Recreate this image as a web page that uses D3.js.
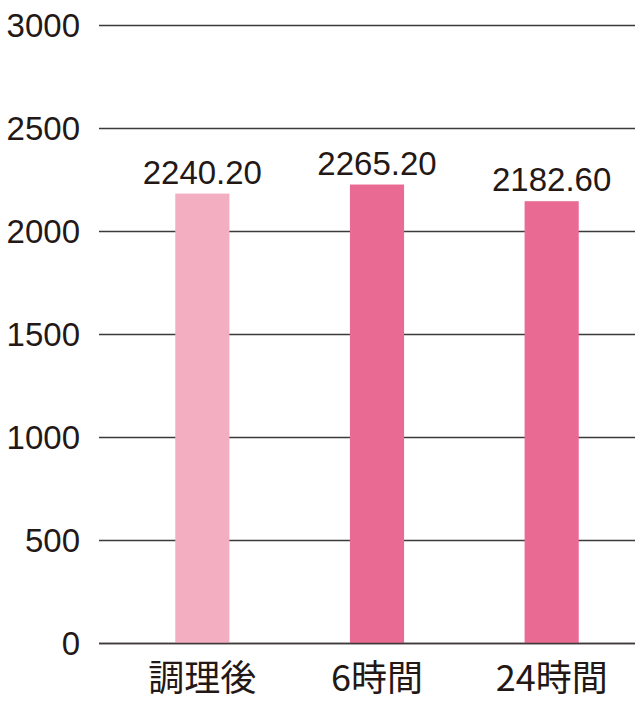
<!DOCTYPE html>
<html><head><meta charset="utf-8">
<script src="https://cdn.jsdelivr.net/npm/d3@7"></script>
<style>body{margin:0;background:#fff}</style>
</head><body>
<svg id="c" width="640" height="702"></svg>
<script>
const categories = ["調理後", "6時間", "24時間"];
const barValues = [2184, 2228, 2147];          // bar heights as drawn
const valueLabels = ["2240.20", "2265.20", "2182.60"]; // printed labels
const yTicks = [0, 500, 1000, 1500, 2000, 2500, 3000];
const colors = ["#f4aec2", "#e96a92", "#e96a92"];

const svg = d3.select("#c");
const y = d3.scaleLinear().domain([0, 3000]).range([643.5, 25.5]);
const x = d3.scaleBand().domain(categories).range([115, 639]).paddingInner(0.69).paddingOuter(0.345);
const textColor = "#231815";
const font = "'Liberation Sans', Arial, sans-serif";

svg.append("g").selectAll("line").data(yTicks).join("line")
  .attr("x1", 99).attr("x2", 635)
  .attr("y1", d => y(d)).attr("y2", d => y(d))
  .attr("stroke", "#3e3a39").attr("stroke-width", 1.3);
svg.append("g").selectAll("text").data(yTicks).join("text")
  .attr("x", 80).attr("y", d => y(d))
  .attr("dy", "0.36em")
  .attr("text-anchor", "end")
  .attr("font-family", font).attr("font-size", 33)
  .attr("fill", textColor)
  .text(d => d);

svg.append("g").selectAll("rect").data(categories).join("rect")
  .attr("x", d => x(d)).attr("width", x.bandwidth())
  .attr("y", (d, i) => y(barValues[i]))
  .attr("height", (d, i) => y(0) - y(barValues[i]))
  .attr("fill", (d, i) => colors[i]);

svg.append("line").attr("x1", 99).attr("x2", 635).attr("y1", y(0)).attr("y2", y(0))
  .attr("stroke", "#3e3a39").attr("stroke-width", 1.3);

svg.append("g").selectAll("text").data(categories).join("text")
  .attr("x", d => x(d) + x.bandwidth() / 2)
  .attr("y", (d, i) => y(barValues[i]) - 10)
  .attr("text-anchor", "middle")
  .attr("font-family", font).attr("font-size", 33)
  .attr("fill", textColor)
  .text((d, i) => valueLabels[i]);

svg.append("g").selectAll("text").data(categories).join("text")
  .attr("x", d => x(d) + x.bandwidth() / 2)
  .attr("y", 691)
  .attr("text-anchor", "middle")
  .attr("font-family", "'Noto Sans CJK JP', sans-serif").attr("font-size", 36)
  .attr("fill", textColor)
  .text(d => d);
</script>
</body></html>
